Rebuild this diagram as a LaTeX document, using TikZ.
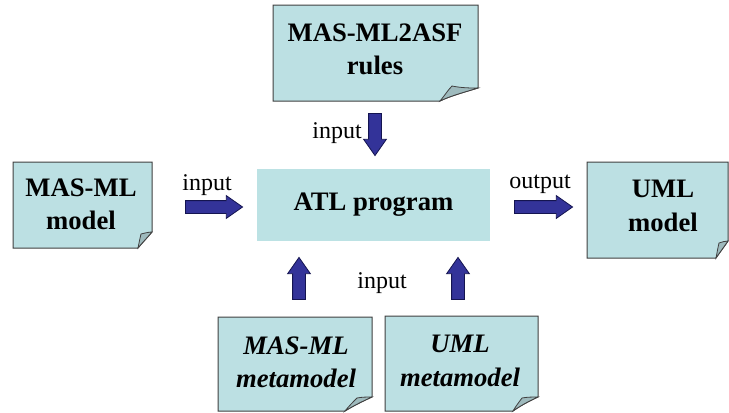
\documentclass[tikz,border=0pt]{standalone}
\usepackage{fontspec}
\setmainfont{Liberation Serif}
\usetikzlibrary{positioning,shapes.arrows}
\usepackage{xcolor}
\definecolor{notefill}{RGB}{188,224,227}
\definecolor{foldfill}{RGB}{158,186,189}
\definecolor{atlfill}{RGB}{188,226,228}
\definecolor{arrowfill}{RGB}{51,51,153}
\definecolor{arrowline}{RGB}{20,20,80}
\tikzset{every picture/.style={line width=0.75pt}}
\tikzset{
  note/.style={draw=black!75,fill=notefill,line width=0.75pt},
  fold/.style={draw=black!75,fill=foldfill,line width=0.6pt},
  notetext/.style={align=center,inner sep=0.75pt,font=\fontsize{20}{25}\selectfont\bfseries},
  lbl/.style={inner sep=0.75pt,font=\fontsize{18}{21}\selectfont},
  blockarrow/.style={single arrow,draw=arrowline,fill=arrowfill,line width=0.6pt,
    inner xsep=0pt,inner ysep=4.5pt,single arrow head extend=3.75pt,
    single arrow tip angle=70,single arrow head indent=0pt}
}

\begin{document}
\begin{tikzpicture}[x=0.75pt,y=0.75pt,yscale=-1,xscale=1]
\useasboundingbox (0,0) rectangle (729,412);

%Note: rules
\draw[note] (273,5) -- (478,5) -- (478,88) .. controls (465,92) and (450,96) .. (440,101) -- (273,101) -- cycle ;
\draw[fold] (440,101) .. controls (445,95) and (448,90) .. (452,86) .. controls (462,88) and (470,88) .. (478,88) .. controls (465,92) and (450,96) .. (440,101) -- cycle ;
%Note: MAS-ML model
\draw[note] (13,162) -- (152,162) -- (152,232) .. controls (147,238) and (142,243) .. (138,248) -- (13,248) -- cycle ;
\draw[fold] (138,248) .. controls (139,243) and (140,238) .. (141,234) .. controls (145,233) and (149,232) .. (152,232) .. controls (147,238) and (142,243) .. (138,248) -- cycle ;
%Note: UML model
\draw[note] (587,162) -- (728,162) -- (728,241) .. controls (724,247) and (720,252) .. (716,258) -- (587,258) -- cycle ;
\draw[fold] (716,258) .. controls (717,253) and (718,247) .. (719,243) .. controls (722,242) and (725,241) .. (728,241) .. controls (724,247) and (720,252) .. (716,258) -- cycle ;
%Note: MAS-ML metamodel
\draw[note] (218,317) -- (372,317) -- (372,397) .. controls (363,401) and (353,406) .. (345,411) -- (218,411) -- cycle ;
\draw[fold] (345,411) .. controls (349,406) and (353,402) .. (357,398) .. controls (362,397) and (367,397) .. (372,397) .. controls (363,401) and (353,406) .. (345,411) -- cycle ;
%Note: UML metamodel
\draw[note] (385,316) -- (538,316) -- (538,397) .. controls (529,401) and (520,406) .. (513,411) -- (385,411) -- cycle ;
\draw[fold] (513,411) .. controls (516,406) and (519,402) .. (522,398) .. controls (527,397) and (533,397) .. (538,397) .. controls (529,401) and (520,406) .. (513,411) -- cycle ;

% ATL box
\node (atl) [fill=atlfill,minimum width=174.75pt,minimum height=54pt,inner sep=0pt,font=\fontsize{20}{25}\selectfont\bfseries] at (373.5,205) {ATL program};

% Text Nodes
\node (rules) [notetext] at (375,49) {MAS-ML2ASF\\rules};
\node (masModel) [notetext] at (81,204) {MAS-ML\\model};
\node (umlModel) [notetext] at (663,206) {UML\\model};
\node (masMeta) [notetext,font=\fontsize{20}{25}\selectfont\bfseries\itshape] at (296,362) {MAS-ML\\metamodel};
\node (umlMeta) [notetext,font=\fontsize{20}{25}\selectfont\bfseries\itshape] at (460,361) {UML\\metamodel};

% Block arrows
\node (rulesArrow) [blockarrow,minimum height=31.5pt,rotate=-90] at (375,130) {};
\node (masArrow) [blockarrow,minimum height=42.75pt] at (209.5,207) {};
\node (outArrow) [blockarrow,minimum height=43.5pt] at (539,207) {};
\node (masMetaArrow) [blockarrow,minimum height=31.5pt,rotate=90] at (299,283) {};
\node (umlMetaArrow) [blockarrow,minimum height=31.5pt,rotate=90] at (458,283) {};

% Labels
\node (inTop) [lbl] at (337,133) {input};
\node (inLeft) [lbl] at (207,185) {input};
\node (outRight) [lbl] at (540,184) {output};
\node (inBottom) [lbl] at (382,283) {input};

\end{tikzpicture}
\end{document}
